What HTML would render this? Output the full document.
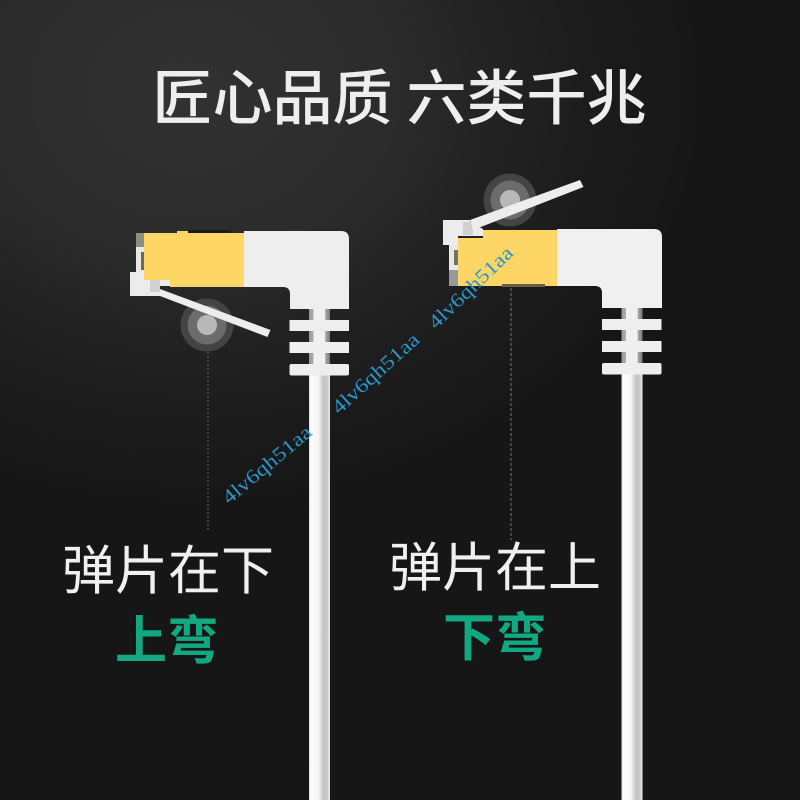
<!DOCTYPE html>
<html><head><meta charset="utf-8"><style>
html,body{margin:0;padding:0;background:#161616;}
svg{display:block;}
text{font-family:"Liberation Sans","Noto Sans CJK SC",sans-serif;}
.wm{font-family:"Liberation Serif",serif;font-size:20px;fill:#2a96cc;}
</style></head><body>
<svg width="800" height="800" viewBox="0 0 800 800" xmlns="http://www.w3.org/2000/svg">
<defs>
<radialGradient id="bg" gradientUnits="userSpaceOnUse" cx="0" cy="0" r="1" gradientTransform="translate(190 90) scale(520 420)">
<stop offset="0" stop-color="#323232"/><stop offset=".4" stop-color="#2b2b2b"/><stop offset=".6" stop-color="#222222"/><stop offset=".8" stop-color="#1b1b1b"/><stop offset="1" stop-color="#161616"/>
</radialGradient>
<linearGradient id="cable" x1="0" x2="1" y1="0" y2="0">
<stop offset="0" stop-color="#dcdcdc"/><stop offset=".1" stop-color="#fdfdfd"/><stop offset=".45" stop-color="#f6f6f6"/><stop offset=".68" stop-color="#c6c6c6"/><stop offset=".86" stop-color="#c8c8c8"/><stop offset="1" stop-color="#ececec"/>
</linearGradient>
<linearGradient id="stem" x1="0" x2="1" y1="0" y2="0">
<stop offset="0" stop-color="#999"/><stop offset=".2" stop-color="#aaa"/><stop offset=".22" stop-color="#f0f0f0"/><stop offset=".76" stop-color="#f0f0f0"/><stop offset=".78" stop-color="#aaa"/><stop offset="1" stop-color="#777"/>
</linearGradient>
<g id="ribs">
<rect x="0" y="0" width="21" height="70" fill="url(#stem)"/>
<rect x="-19.500" y="11" width="59.500" height="11" fill="#eee"/>
<rect x="-19.500" y="33" width="59.500" height="11" fill="#efefef"/>
<rect x="-19.500" y="55" width="59.500" height="11.500" rx="2" fill="#eee"/>
<rect x="0" y="66.500" width="21" height="433.500" fill="url(#cable)"/>
</g>
</defs>
<rect width="800" height="800" fill="#161616"/>
<rect width="800" height="800" fill="url(#bg)"/>

<text x="152.500" y="119.500" font-size="60" font-weight="500" fill="#eeeeee">匠心品质</text>
<text x="406.500" y="119.500" font-size="60" font-weight="500" fill="#eeeeee">六类千兆</text>

<!-- left connector -->
<line x1="208" y1="352" x2="208" y2="530" stroke="#666" stroke-width="1" stroke-dasharray="2 2"/>
<circle cx="207" cy="325" r="26.500" fill="#444"/>
<circle cx="207" cy="325" r="19.500" fill="#6c6c6c"/>
<circle cx="207" cy="325" r="10" fill="#b8b8b8"/>
<rect x="136" y="233" width="10" height="42" fill="#e8e8e8"/>
<rect x="136" y="233" width="8" height="14" fill="#8e8a84"/>
<rect x="141" y="252" width="3" height="18" fill="#6e675c"/>
<path d="M130 272H144V280H170V286H160V296H130Z" fill="#ececec"/>
<rect x="150" y="280" width="10" height="12" fill="#d0d0d0"/>
<polygon points="160,289 270.500,330 267.500,337 160,296" fill="#ededed"/>
<path d="M244 231H341Q349 231 349 239V309H290V294Q290 287 283 287H244Z" fill="#eeeeee"/>
<path d="M144 233H177V231H188V233H244V287H170V280H144Z" fill="#fdd665"/>
<rect x="188" y="230" width="43" height="3" fill="#1a1a1a"/>
<use href="#ribs" x="309" y="309"/>

<!-- right connector -->
<line x1="511" y1="288" x2="511" y2="540" stroke="#777" stroke-width="1" stroke-dasharray="3 2"/>
<circle cx="510" cy="200" r="26.500" fill="#444"/>
<circle cx="510" cy="200" r="19.500" fill="#6c6c6c"/>
<circle cx="510" cy="200" r="10" fill="#b8b8b8"/>
<rect x="449" y="240" width="11" height="46" fill="#e8e8e8"/>
<rect x="449" y="270" width="9" height="16" fill="#999"/>
<rect x="454" y="250" width="4" height="15" fill="#7a7060"/>
<path d="M443 220H470V222L483 229V236H458V245H443Z" fill="#ececec"/>
<rect x="463" y="222" width="10" height="13" fill="#d0d0d0"/>
<polygon points="470,220 580,180 583.500,187 473,230" fill="#ededed"/>
<path d="M557 229H654Q662 229 662 237V308H602V293Q602 286 595 286H557Z" fill="#f0f0f0"/>
<path d="M483 230H557V286H458V238H483Z" fill="#fdd665"/>
<rect x="502" y="284" width="43" height="3" fill="#6a5f42"/>
<use href="#ribs" x="621.500" y="308"/>

<!-- watermarks -->
<text class="wm" transform="translate(229 505) rotate(-40)" textLength="110" lengthAdjust="spacingAndGlyphs">4lv6qh51aa</text>
<text class="wm" transform="translate(339 415) rotate(-42)" textLength="110" lengthAdjust="spacingAndGlyphs">4lv6qh51aa</text>
<text class="wm" transform="translate(436 330) rotate(-44)" textLength="109" lengthAdjust="spacingAndGlyphs">4lv6qh51aa</text>

<text x="62" y="589" font-size="53" font-weight="400" fill="#f0f0f0">弹片在下</text>
<text x="389" y="586" font-size="53" font-weight="400" fill="#f0f0f0">弹片在上</text>
<text x="115" y="659" font-size="52" font-weight="700" fill="#12a982">上弯</text>
<text x="443" y="656" font-size="52" font-weight="700" fill="#12a982">下弯</text>
</svg>
</body></html>
